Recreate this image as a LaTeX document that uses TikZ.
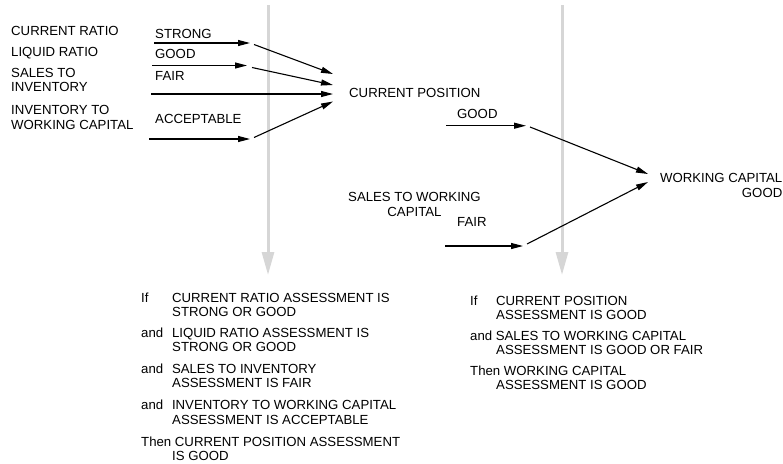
\documentclass[tikz,border=0pt]{standalone}
\usepackage{fontspec}
\setmainfont{Liberation Sans}
\usepackage{tikz}
\usetikzlibrary{positioning}
\usetikzlibrary{arrows.meta}
\definecolor{guidegray}{RGB}{214,214,214}
\tikzset{
    lbl/.style={anchor=west, inner sep=0pt, align=left},
    blk/.style={anchor=north west, inner sep=0pt, align=left},
    flow/.style={line width=1.1pt, -{Triangle[length=12pt,width=6pt]}},
    guide/.style={draw=guidegray, line width=3pt, -{Triangle[length=23pt,width=12pt,fill=guidegray]}}
}

\begin{document}
\begin{tikzpicture}[x=1pt,y=-1pt,font=\fontsize{13.2}{14.5}\selectfont]
            \useasboundingbox (0,0) rectangle (783,463);
            % Guide lines
            \coordinate (g1a) at (268,5);
            \coordinate (g1b) at (268,275);
            \coordinate (g2a) at (562,5);
            \coordinate (g2b) at (562,275);
            \draw [guide] (g1a) -- (g1b);
            \draw [guide] (g2a) -- (g2b);
            % Left diagram (Current position)
            \node [lbl] (cr) at (11,31) {CURRENT RATIO};
            \node [lbl] (lr) at (11,53) {LIQUID RATIO};
            \node [blk] (si) at (11,68) {SALES TO\\INVENTORY};
            \node [blk] (iwc) at (11,105.5) {INVENTORY TO\\WORKING CAPITAL};
            \node [lbl] (strong) at (155,33.5) {STRONG};
            \node [lbl] (good1) at (155,53.5) {GOOD};
            \node [lbl] (fair1) at (155,76) {FAIR};
            \node [lbl] (acc) at (155,118.5) {ACCEPTABLE};
            \node [lbl] (cp) at (349,93) {CURRENT POSITION};
            \coordinate (a1s) at (154,43);
            \coordinate (a1e) at (250,43);
            \coordinate (a2s) at (152,65.5);
            \coordinate (a2e) at (247,65.5);
            \coordinate (a3s) at (151,94);
            \coordinate (a4s) at (149,139);
            \coordinate (a4e) at (250,139);
            \coordinate (d1s) at (254,44.5);
            \coordinate (d2s) at (252,67.5);
            \coordinate (d4s) at (254,137.5);
            \coordinate (cp1) at (333,74);
            \coordinate (cp2) at (333,85);
            \coordinate (cp3) at (333,94);
            \coordinate (cp4) at (333,101.5);
            \draw [flow] (a1s) -- (a1e);
            \draw [flow] (a2s) -- (a2e);
            \draw [flow] (a4s) -- (a4e);
            \draw [flow] (d1s) -- (cp1);
            \draw [flow] (d2s) -- (cp2);
            \draw [flow] (a3s) -- (cp3);
            \draw [flow] (d4s) -- (cp4);
            % Right diagram (Working capital)
            \node [lbl] (good2) at (457,114) {GOOD};
            \node [blk, align=center] (swc) at (348,192.5) {SALES TO WORKING\\CAPITAL};
            \node [lbl] (fair2) at (457,222) {FAIR};
            \node [blk, anchor=north east, align=right] (wc) at (782.5,173.3) {WORKING CAPITAL\\GOOD};
            \coordinate (b1s) at (446,125.7);
            \coordinate (b1e) at (526,125.7);
            \coordinate (b2s) at (445,246);
            \coordinate (b2e) at (523,246);
            \coordinate (e1s) at (530,127);
            \coordinate (e2s) at (527,244);
            \coordinate (wc1) at (648,174);
            \coordinate (wc2) at (648,182);
            \draw [flow] (b1s) -- (b1e);
            \draw [flow] (b2s) -- (b2e);
            \draw [flow] (e1s) -- (wc1);
            \draw [flow] (e2s) -- (wc2);
            % Rules
            \node [blk] (r1a) at (141,292.3) {If\hspace*{23.6pt}CURRENT RATIO ASSESSMENT IS\\\hspace*{31pt}STRONG OR GOOD};
            \node [blk] (r1b) at (141,327.7) {and\hspace*{8.8pt}LIQUID RATIO ASSESSMENT IS\\\hspace*{31pt}STRONG OR GOOD};
            \node [blk] (r1c) at (141,363.3) {and\hspace*{8.8pt}SALES TO INVENTORY\\\hspace*{31pt}ASSESSMENT IS FAIR};
            \node [blk] (r1d) at (141,400) {and\hspace*{8.8pt}INVENTORY TO WORKING CAPITAL\\\hspace*{31pt}ASSESSMENT IS ACCEPTABLE};
            \node [blk] (r1e) at (141,436.5) {Then CURRENT POSITION ASSESSMENT\\\hspace*{31pt}IS GOOD};
            \node [blk] (r2a) at (470,295.3) {If\hspace*{18.5pt}CURRENT POSITION\\\hspace*{26pt}ASSESSMENT IS GOOD};
            \node [blk] (r2b) at (470,330.3) {and SALES TO WORKING CAPITAL\\\hspace*{26pt}ASSESSMENT IS GOOD OR FAIR};
            \node [blk] (r2c) at (470,365.3) {Then WORKING CAPITAL\\\hspace*{26pt}ASSESSMENT IS GOOD};
        \end{tikzpicture}
\end{document}
